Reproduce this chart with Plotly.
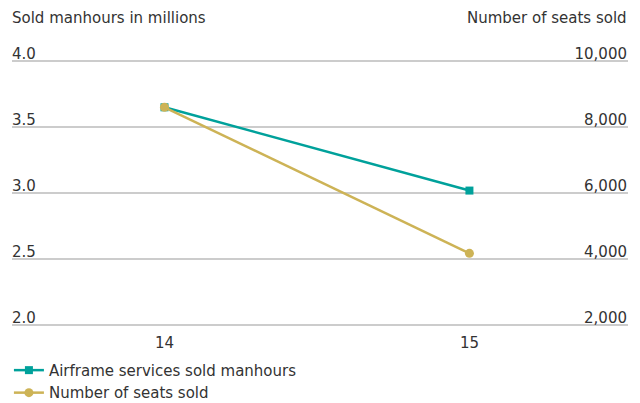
import plotly.graph_objects as go

# Years on the category axis
years = [14, 15]

# Airframe services sold manhours (millions), left axis
manhours = [3.65, 3.02]

# Number of seats sold, right axis
seats = [8600, 4180]

left_ticks = [2.0, 2.5, 3.0, 3.5, 4.0]
right_ticks = [2000, 4000, 6000, 8000, 10000]

# Both axes share the same grid: seats = 4000 * manhours - 6000
left_range = [1.95, 4.25]
right_range = [4000 * v - 6000 for v in left_range]

TEAL = "#00A19B"
GOLD = "#CDB356"
TEXT = "#333333"
GRID = "#CCCCCC"
FONT = "DejaVu Sans"
SIZE = 15

fig = go.Figure()

fig.add_trace(go.Scatter(
    x=years, y=manhours, name="Airframe services sold manhours",
    mode="lines+markers", legendgroup="a",
    line=dict(color=TEAL, width=2.5),
    marker=dict(symbol="square", size=8, color=TEAL),
    yaxis="y",
))

fig.add_trace(go.Scatter(
    x=years, y=seats, name="Number of seats sold",
    mode="lines+markers", legendgroup="b",
    line=dict(color=GOLD, width=2.5),
    marker=dict(symbol="circle", size=9, color=GOLD),
    yaxis="y2",
))

fig.update_layout(
    width=640, height=403,
    margin=dict(l=12, r=12, t=28, b=71, autoexpand=False),
    paper_bgcolor="white", plot_bgcolor="white",
    font=dict(family=FONT, size=SIZE, color=TEXT),
    showlegend=True,
    legend=dict(
        x=-0.005, y=-0.072, xanchor="left", yanchor="top",
        orientation="v", font=dict(family=FONT, size=SIZE, color=TEXT),
        itemwidth=30, traceorder="grouped", tracegroupgap=0,
        bgcolor="rgba(0,0,0,0)",
    ),
    xaxis=dict(
        range=[13.5, 15.52],
        tickvals=years, ticktext=[str(y) for y in years],
        showgrid=False, zeroline=False, showline=False,
        ticks="", tickfont=dict(size=SIZE, color=TEXT),
        ticklabelstandoff=0,
    ),
    yaxis=dict(
        range=left_range,
        tickvals=left_ticks, tickformat=".1f",
        ticklabelposition="inside top", ticklabelshift=3,
        ticklabelstandoff=-3,
        showgrid=True, gridcolor=GRID, gridwidth=1.5,
        zeroline=False, showline=False, ticks="",
        tickfont=dict(size=SIZE, color=TEXT),
    ),
    yaxis2=dict(
        range=right_range,
        tickvals=right_ticks, tickformat=",",
        overlaying="y", side="right",
        ticklabelposition="inside top", ticklabelshift=3,
        ticklabelstandoff=-2,
        showgrid=False, zeroline=False, showline=False, ticks="",
        tickfont=dict(size=SIZE, color=TEXT),
    ),
    annotations=[
        dict(text="Sold manhours in millions", xref="paper", yref="paper",
             x=0, y=1, xshift=-2, yshift=10, xanchor="left", yanchor="middle",
             showarrow=False, font=dict(size=SIZE, color=TEXT)),
        dict(text="Number of seats sold", xref="paper", yref="paper",
             x=1, y=1, xshift=1, yshift=10, xanchor="right", yanchor="middle",
             showarrow=False, font=dict(size=SIZE, color=TEXT)),
    ],
)

fig.write_html("out.html")
